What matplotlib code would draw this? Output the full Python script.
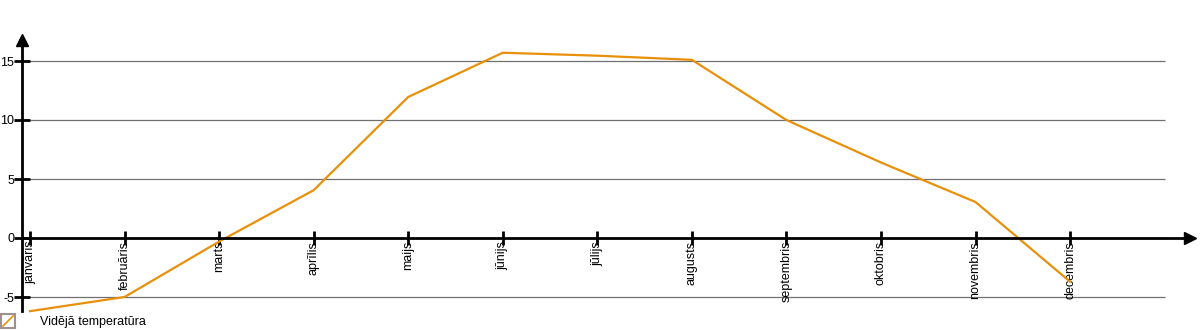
import matplotlib.pyplot as plt
from matplotlib.patches import Rectangle
from matplotlib.lines import Line2D

plt.rcParams['font.family'] = ['Liberation Sans', 'DejaVu Sans']

# data
months = ['janvāris', 'februāris', 'marts', 'aprīlis', 'maijs', 'jūnijs',
          'jūlijs', 'augusts', 'septembris', 'oktobris', 'novembris', 'decembris']
temps = [-6.2, -5.0, -0.3, 4.05, 11.95, 15.7, 15.45, 15.1, 10.0, 6.4, 3.05, -3.7]
yticks = [-5, 0, 5, 10, 15]
series_name = 'Vidējā temperatūra'

line_color = '#e8900a'

fig = plt.figure(figsize=(12, 3.3), dpi=100)
ax = fig.add_axes([0, 0, 1, 1])

# pixel layout: first month at x=30, step ~94.55px; zero at y=238, 11.8px per degree
step = 94.55
ax.set_xlim(-30 / step, (1200 - 30) / step)
ax.set_ylim(-92 / 11.8, 238 / 11.8)

x = list(range(len(months)))
yaxis_x = -8 / step

# grid lines
ax.hlines(yticks, yaxis_x, (1165 - 30) / step, color='#707070', lw=0.9, zorder=1)

ax.plot(x, temps, color=line_color, lw=1.6, zorder=3, solid_joinstyle='miter')

# axes as spines
for s in ['top', 'right']:
    ax.spines[s].set_visible(False)
ax.spines['bottom'].set_position(('data', 0))
ax.spines['left'].set_position(('data', yaxis_x))
ax.spines['bottom'].set_bounds(yaxis_x, (1185 - 30) / step)
ax.spines['left'].set_bounds(-73 / 11.8, (238 - 42) / 11.8)
for s in ['bottom', 'left']:
    ax.spines[s].set_linewidth(2)
    ax.spines[s].set_zorder(4)

# arrowheads
ax.plot((1190 - 30) / step, 0, '>', color='black', ms=8, clip_on=False, zorder=5)
ax.plot(yaxis_x, (238 - 40) / 11.8, '^', color='black', ms=8, clip_on=False, zorder=5)

ax.set_xticks(x)
ax.set_xticklabels(months, rotation=90, va='top', ha='center', fontsize=9)
ax.tick_params(axis='x', direction='inout', length=10, width=2, pad=-3)
ax.set_yticks(yticks)
ax.set_yticklabels([str(v) for v in yticks], fontsize=9)
ax.tick_params(axis='y', direction='inout', length=11, width=2, pad=0)

# legend
fig.patches.append(Rectangle((1 / 1200, 2 / 330), 14 / 1200, 14 / 330,
                             transform=fig.transFigure, fill=False,
                             edgecolor='#a09090', lw=1.5))
fig.lines.append(Line2D([3 / 1200, 13 / 1200], [4 / 330, 14 / 330],
                        transform=fig.transFigure, color=line_color, lw=1.2))
fig.text(40 / 1200, 8 / 330, series_name, fontsize=9, va='center', ha='left')

fig.savefig('out.png', dpi=100)
